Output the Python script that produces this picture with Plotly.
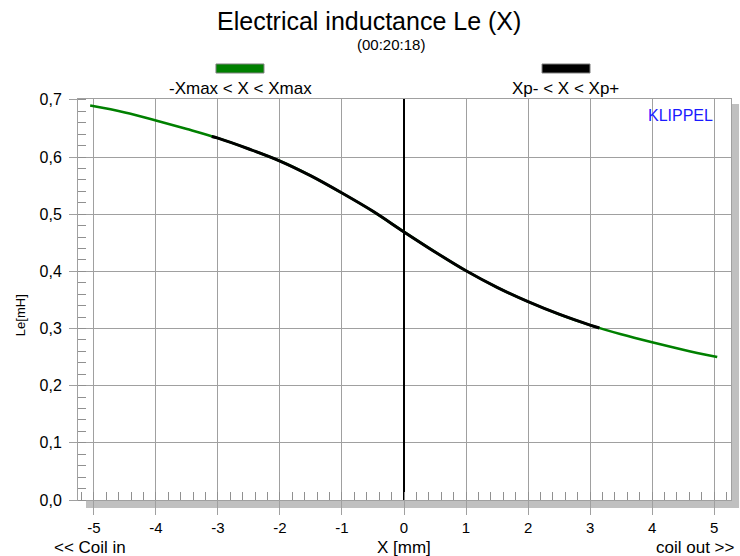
import plotly.graph_objects as go

# ---- data ----
x_full = [-5.06, -4.5, -4.0, -3.5, -3.0, -2.5, -2.0, -1.5, -1.0, -0.5, 0.0,
          0.5, 1.0, 1.5, 2.0, 2.5, 3.0, 3.5, 4.0, 4.5, 5.05]
le_full = [0.690, 0.678, 0.664, 0.649, 0.633, 0.614, 0.593, 0.567, 0.537, 0.505, 0.469,
           0.434, 0.401, 0.372, 0.347, 0.325, 0.306, 0.290, 0.276, 0.263, 0.250]

x_p = [-3.1, -3.0, -2.5, -2.0, -1.5, -1.0, -0.5, 0.0, 0.5, 1.0, 1.5, 2.0, 2.5, 3.0, 3.15]
le_p = [0.636, 0.633, 0.614, 0.593, 0.567, 0.537, 0.505, 0.469, 0.434, 0.401, 0.372,
        0.347, 0.325, 0.306, 0.301]

x_ticks = [-5, -4, -3, -2, -1, 0, 1, 2, 3, 4, 5]
x_tick_text = ["-5", "-4", "-3", "-2", "-1", "0", "1", "2", "3", "4", "5"]
y_ticks = [0.0, 0.1, 0.2, 0.3, 0.4, 0.5, 0.6, 0.7]
y_tick_text = ["0,0", "0,1", "0,2", "0,3", "0,4", "0,5", "0,6", "0,7"]

title = "Electrical inductance Le (X)"
subtitle = "(00:20:18)"
legend_names = ["-Xmax < X < Xmax", "Xp- < X < Xp+"]
legend_colors = ["#008000", "#000000"]

FONT = "Liberation Sans, Arial, sans-serif"
GRID = "#a0a0a0"

fig = go.Figure()
fig.add_trace(go.Scatter(x=x_full, y=le_full, mode="lines",
                         line=dict(color=legend_colors[0], width=2.5, shape="spline"),
                         name=legend_names[0], showlegend=False))
fig.add_trace(go.Scatter(x=x_p, y=le_p, mode="lines",
                         line=dict(color=legend_colors[1], width=3, shape="spline"),
                         name=legend_names[1], showlegend=False))

# shadow of the frame
shapes = [
    dict(type="rect", xref="paper", yref="paper", x0=1.0, x1=1.0123, y0=-0.02, y1=0.9875,
         fillcolor="#c0c0c0", line=dict(width=0), layer="below"),
    dict(type="rect", xref="paper", yref="paper", x0=0.01225, x1=1.0123, y0=-0.02, y1=0.0,
         fillcolor="#c0c0c0", line=dict(width=0), layer="below"),
    # legend swatches
    dict(type="rect", xref="paper", yref="paper", x0=0.2113, x1=0.2848, y0=1.0648, y1=1.0873,
         fillcolor=legend_colors[0], line=dict(width=1, color="#808080")),
    dict(type="rect", xref="paper", yref="paper", x0=0.7106, x1=0.7841, y0=1.0648, y1=1.0873,
         fillcolor=legend_colors[1], line=dict(width=1, color="#808080")),
]

def ann(text, x, y, size, xanchor="center", color="#000000", angle=0):
    return dict(text=text, x=x, y=y, xref="paper", yref="paper", showarrow=False,
                xanchor=xanchor, yanchor="middle", textangle=angle,
                font=dict(family=FONT, size=size, color=color))

annotations = [
    ann(title, 0.4456, 1.1945, 25),
    ann(subtitle, 0.479, 1.1347, 15),
    ann(legend_names[0], 0.2496, 1.0274, 17),
    ann(legend_names[1], 0.7473, 1.0274, 17),
    ann("KLIPPEL", 0.9219, 0.960, 16, color="#1a1aff"),
    ann("Le[mH]", -0.0888, 0.461, 13, angle=-90),
    ann("<< Coil in", -0.0398, -0.1197, 17, xanchor="left"),
    ann("X [mm]", 0.4992, -0.1197, 17),
    ann("coil out >>", 1.0092, -0.1197, 17, xanchor="right"),
]

fig.update_layout(
    width=740, height=556,
    margin=dict(l=78, r=9, t=99, b=56),
    paper_bgcolor="white", plot_bgcolor="white",
    showlegend=False,
    shapes=shapes, annotations=annotations,
    font=dict(family=FONT, size=14, color="#000000"),
)
fig.update_xaxes(
    range=[-5.256, 5.272], tickvals=x_ticks, ticktext=x_tick_text,
    showgrid=True, gridcolor=GRID, gridwidth=1,
    ticks="outside", ticklen=14, tickcolor=GRID, tickwidth=1,
    showline=True, linecolor=GRID, linewidth=1, mirror=True,
    zeroline=True, zerolinecolor="#000000", zerolinewidth=2,
    minor=dict(dtick=0.2, ticks="inside", ticklen=8, tickcolor="#909090", showgrid=False),
    tickfont=dict(family=FONT, size=15),
)
fig.update_yaxes(
    range=[0, 0.7015], tickvals=y_ticks, ticktext=y_tick_text,
    showgrid=True, gridcolor=GRID, gridwidth=1,
    ticks="outside", ticklen=8, tickcolor=GRID, tickwidth=1,
    showline=True, linecolor=GRID, linewidth=1, mirror=True,
    zeroline=False, ticklabelstandoff=4,
    minor=dict(dtick=0.02, ticks="inside", ticklen=8, tickcolor="#909090", showgrid=False),
    tickfont=dict(family=FONT, size=16),
)

fig.write_html("out.html")
